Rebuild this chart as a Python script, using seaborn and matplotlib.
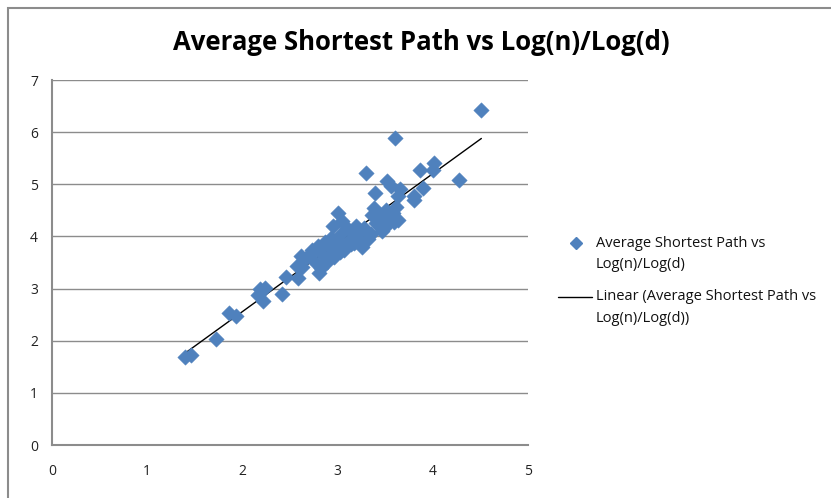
import numpy as np
import pandas as pd
import matplotlib
matplotlib.use("Agg")
import matplotlib.pyplot as plt
import seaborn as sns
from matplotlib.lines import Line2D
from matplotlib.patches import Rectangle

log_ratio = [1.40, 1.46, 1.72, 1.86, 1.93, 2.18, 2.24, 2.22, 2.16, 2.42, 2.46,
             2.57, 2.58, 2.68, 2.73, 2.76, 2.79, 2.80, 2.84, 2.87, 2.89, 2.92,
             2.93, 2.95, 2.97, 3.00, 3.00, 3.04, 3.05, 3.07, 3.10, 3.12, 3.15,
             3.17, 3.19, 3.21, 3.24, 3.26, 3.28, 3.30, 3.36, 3.39, 3.38, 3.42,
             3.45, 3.48, 3.49, 3.51, 3.52, 3.54, 3.56, 3.58, 3.59, 3.60, 3.61,
             3.63, 3.63, 3.66, 3.80, 3.80, 3.87, 3.90, 4.00, 4.01, 4.27, 4.51,
             2.63, 2.62, 2.83, 2.96, 3.02, 3.14, 3.32, 3.35, 3.40, 3.47, 3.44]
avg_path = [1.69, 1.73, 2.03, 2.53, 2.48, 2.99, 3.01, 2.76, 2.88, 2.90, 3.22,
            3.43, 3.20, 3.61, 3.74, 3.51, 3.82, 3.30, 3.66, 3.89, 3.51, 3.78,
            3.97, 4.20, 3.68, 3.87, 4.45, 4.05, 4.30, 3.74, 4.16, 3.91, 4.07,
            3.87, 4.20, 3.97, 4.10, 3.80, 4.16, 5.22, 4.41, 4.83, 4.54, 4.32,
            4.20, 4.37, 4.16, 4.50, 5.06, 4.28, 4.97, 4.45, 4.28, 5.89, 4.56,
            4.78, 4.32, 4.91, 4.78, 4.70, 5.27, 4.93, 5.27, 5.41, 5.08, 6.42,
            3.42, 3.62, 3.40, 3.60, 3.70, 3.85, 3.95, 4.05, 4.25, 4.10, 4.40]

x_ticks = [0, 1, 2, 3, 4, 5]
y_ticks = [0, 1, 2, 3, 4, 5, 6, 7]

title = "Average Shortest Path vs Log(n)/Log(d)"
series_label = "Average Shortest Path vs\nLog(n)/Log(d)"
trend_label = "Linear (Average Shortest Path vs\nLog(n)/Log(d))"

df = pd.DataFrame({"x": log_ratio, "y": avg_path})

sns.set_theme(style="white")
plt.rcParams['font.family'] = ['Open Sans', 'DejaVu Sans']

W, H = 831, 498
fig = plt.figure(figsize=(W / 100, H / 100), dpi=100)
ax = fig.add_axes([52 / W, 1 - 445 / H, (528 - 52) / W, (445 - 80) / H])

blue = "#4F81BD"
sns.regplot(data=df, x="x", y="y", ax=ax, scatter=False, ci=None,
            line_kws=dict(color="black", lw=1.0, zorder=2))
sns.scatterplot(data=df, x="x", y="y", ax=ax, marker="D", s=62, color=blue,
                edgecolor=blue, linewidth=0.3, zorder=3)

ax.set_xlim(0, 5)
ax.set_ylim(0, 7)
ax.set_xticks(x_ticks)
ax.set_yticks(y_ticks)
ax.set_xlabel("")
ax.set_ylabel("")
ax.grid(axis="y", color="#8c8c8c", lw=1.0)
ax.grid(axis="x", visible=False)
for s in ["top", "right"]:
    ax.spines[s].set_visible(False)
for s in ["left", "bottom"]:
    ax.spines[s].set_color("#8c8c8c")
    ax.spines[s].set_linewidth(1.5)
ax.tick_params(axis="both", which="both", direction="out", length=4,
               color="#8c8c8c", width=1, labelsize=10, labelcolor="#222222")
ax.tick_params(axis="x", pad=10)
ax.tick_params(axis="y", pad=6)
ax.set_axisbelow(True)

fig.text(421 / W, 1 - 42 / H, title, ha="center", va="center",
         fontsize=18.5, fontweight="bold", color="black")

# legend (handles aligned with first line of each label, as in the original)
def fy(py):
    return 1 - py / H

fig.add_artist(Line2D([576 / W], [fy(243)], marker="D", ls="", color=blue,
                      markersize=6.5, transform=fig.transFigure))
fig.add_artist(Line2D([558 / W, 592 / W], [fy(297), fy(297)], color="black",
                      lw=1.0, transform=fig.transFigure))
for lab, y0 in [(series_label, 243), (trend_label, 297)]:
    for i, line in enumerate(lab.split("\n")):
        fig.text(596 / W, fy(y0 + 21 * i), line, ha="left", va="center",
                 fontsize=10.5, color="#111111")

fig.patches.append(Rectangle((8 / W, -0.1), 1.2, 1 - 8 / H + 0.1,
                             transform=fig.transFigure, fill=False,
                             edgecolor="#8c8c8c", lw=1.5))

fig.savefig("out.png", dpi=100)
